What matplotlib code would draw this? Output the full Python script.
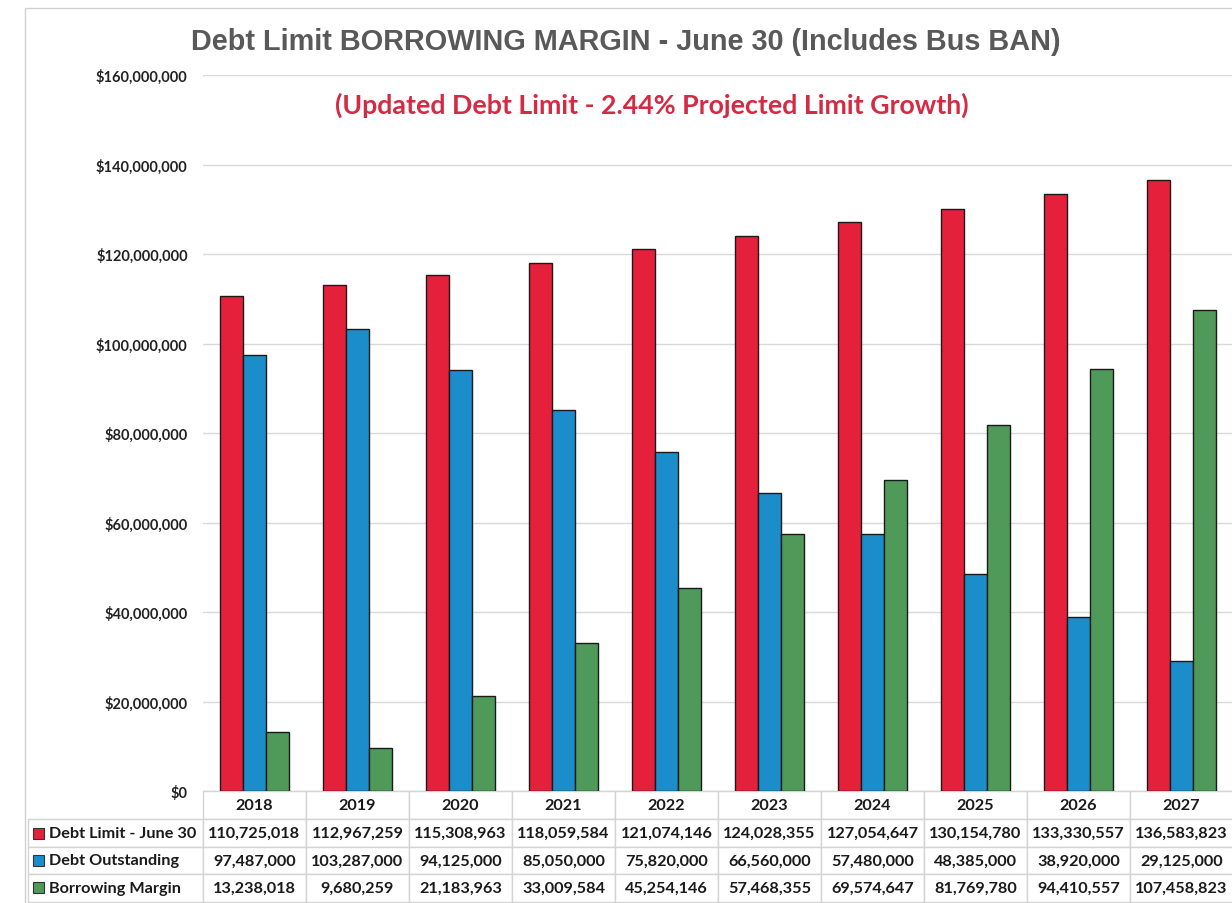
import matplotlib.pyplot as plt
import numpy as np
from matplotlib.patches import Rectangle

years = ["2018", "2019", "2020", "2021", "2022", "2023", "2024", "2025", "2026", "2027"]
debt_limit = [110725018, 112967259, 115308963, 118059584, 121074146,
              124028355, 127054647, 130154780, 133330557, 136583823]
debt_outstanding = [97487000, 103287000, 94125000, 85050000, 75820000,
                    66560000, 57480000, 48385000, 38920000, 29125000]
borrowing_margin = [13238018, 9680259, 21183963, 33009584, 45254146,
                    57468355, 69574647, 81769780, 94410557, 107458823]
series_names = ["Debt Limit - June 30", "Debt Outstanding", "Borrowing Margin"]
colors = ["#E5203A", "#1B8DCA", "#4F9A58"]

W, H = 1232, 904
fig = plt.figure(figsize=(W / 100, H / 100), dpi=100)

# plot area in pixel terms
left, right, top, bottom = 203, 1233, 76, 792
ax = fig.add_axes([left / W, (H - bottom) / H, (right - left) / W, (bottom - top) / H])

x = np.arange(len(years))
bw = 0.225
for i, (vals, c) in enumerate(zip([debt_limit, debt_outstanding, borrowing_margin], colors)):
    ax.bar(x + (i - 1) * bw, vals, width=bw, color=c, edgecolor="#1a1a1a", linewidth=1.0, zorder=3)

ax.set_xlim(-0.5, len(years) - 0.5)
ax.set_ylim(0, 160e6)
ax.set_yticks(np.arange(0, 160e6 + 1, 20e6))
ax.set_yticklabels(["${:,.0f}".format(v) for v in np.arange(0, 160e6 + 1, 20e6)],
                   fontfamily="Lato", fontweight="bold", fontsize=10.5, color="#222222")
ax.tick_params(axis="y", length=0, pad=11)
ax.set_xticks([])
ax.grid(axis="y", color="#d9d9d9", linewidth=1.0, zorder=0)
ax.set_axisbelow(True)
for s in ax.spines.values():
    s.set_visible(False)

# data table under the plot
label_w = (left - 28) / (right - left)
table_h = 111 / (bottom - top)
cell_text = [[name] + ["{:,}".format(v) for v in vals]
             for name, vals in zip(series_names, [debt_limit, debt_outstanding, borrowing_margin])]
tbl = ax.table(cellText=cell_text, colLabels=[""] + years,
               colWidths=[label_w] + [0.1] * len(years),
               cellLoc="center", bbox=[-label_w, -table_h, 1 + label_w, table_h])
tbl.auto_set_font_size(False)
tbl.set_fontsize(11.7)
for (r, c), cell in tbl.get_celld().items():
    cell.set_edgecolor("#d4d4d4")
    cell.set_linewidth(1.0)
    t = cell.get_text()
    t.set_fontfamily("Lato")
    t.set_fontweight("bold")
    t.set_color("#1a1a1a")
    if c == 0:
        t.set_horizontalalignment("left")
        cell.PAD = 0.12
    if r == 0 and c == 0:
        cell.visible_edges = ""

# legend keys in the row labels
row_centers = [834, 861, 888]
for yc, c in zip(row_centers, colors):
    fig.patches.append(Rectangle((33 / W, (H - yc - 6) / H), 11 / W, 11 / H,
                                 transform=fig.transFigure, facecolor=c,
                                 edgecolor="#333333", linewidth=0.8))

# chart border
fig.patches.append(Rectangle((25 / W, -0.01), 1.1, (H - 9) / H + 0.01,
                             transform=fig.transFigure, fill=False,
                             edgecolor="#d0d0d0", linewidth=1.0))

fig.text(626 / W, 1 - 42 / H, "Debt Limit BORROWING MARGIN - June 30 (Includes Bus BAN)",
         ha="center", va="center", fontsize=20.8, fontfamily="Liberation Sans",
         fontweight="bold", color="#595959")
fig.text(652 / W, 1 - 105 / H, "(Updated Debt Limit - 2.44% Projected Limit Growth)",
         ha="center", va="center", fontsize=19.3, fontfamily="Lato",
         fontweight="bold", color="#D42A43")

fig.savefig("out.png", dpi=100)
